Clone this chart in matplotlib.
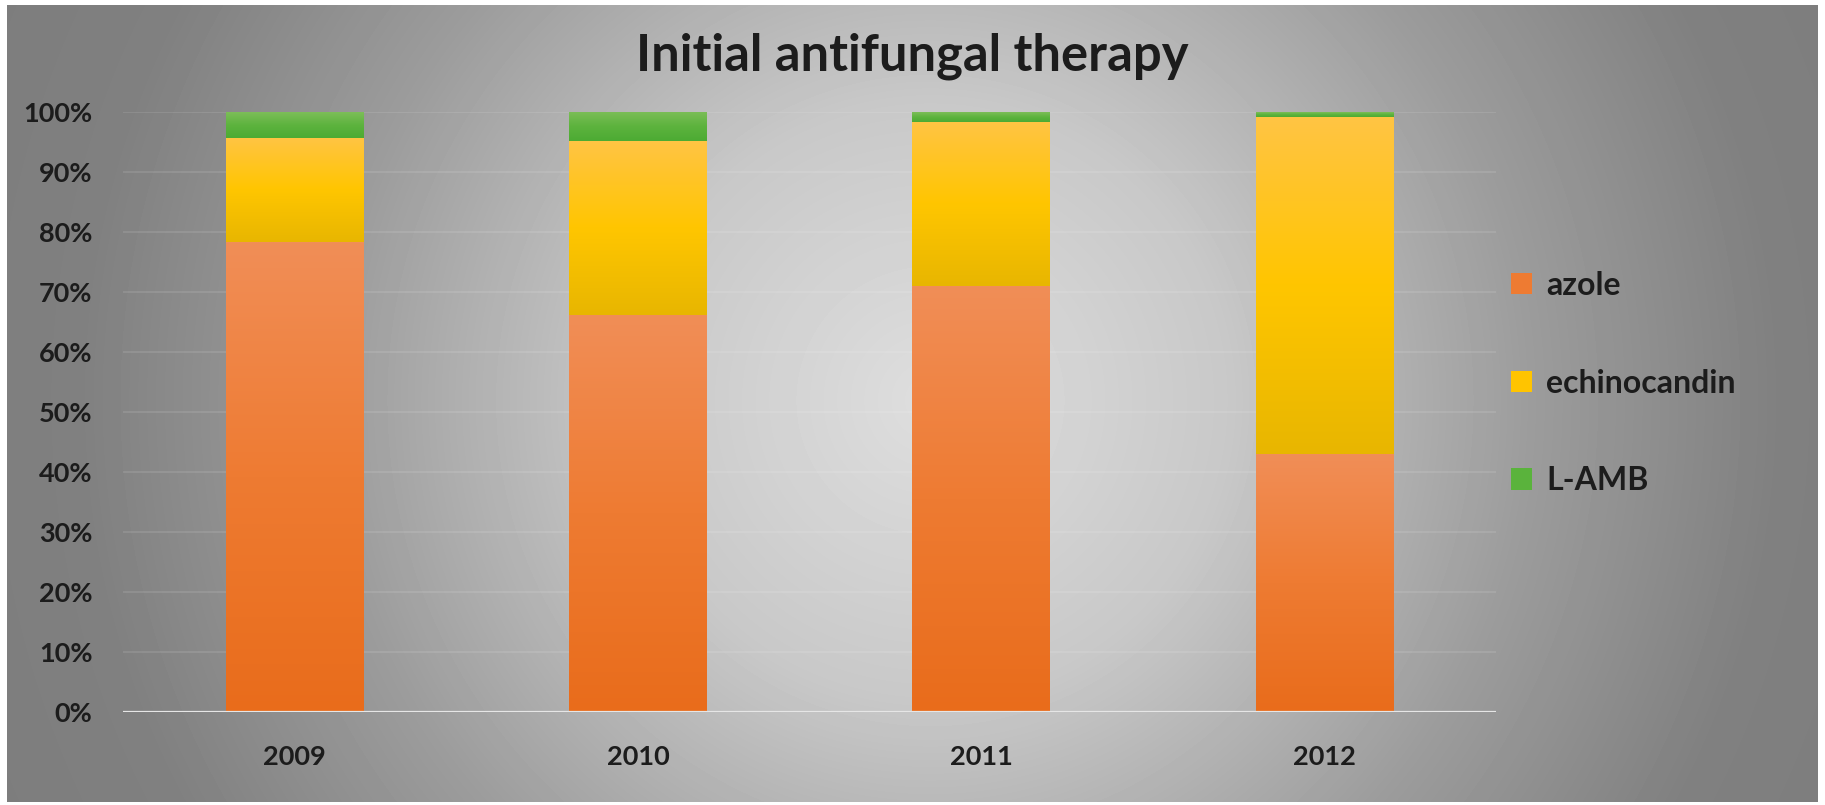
import numpy as np
import matplotlib
matplotlib.use('Agg')
import matplotlib.pyplot as plt
from matplotlib.colors import LinearSegmentedColormap
from matplotlib.patches import Patch

# Share of initial antifungal therapy per year (fractions of 1)
years = ['2009', '2010', '2011', '2012']
azole = [0.783, 0.662, 0.710, 0.430]
echinocandin = [0.174, 0.289, 0.274, 0.562]
lamb = [0.043, 0.049, 0.016, 0.008]

series_names = ['azole', 'echinocandin', 'L-AMB']

# vertical gradient stops (top -> bottom) for each series
grad_stops = {
    'azole': ['#F18E57', '#EE7B32', '#E96C1B'],
    'echinocandin': ['#FFC444', '#FFC600', '#E8B600'],
    'L-AMB': ['#7DBE58', '#5DB33E', '#4CAB33'],
}
legend_colors = {'azole': '#EE7B32', 'echinocandin': '#FFC400', 'L-AMB': '#5AB33C'}

W, H = 1825, 805
fig = plt.figure(figsize=(W / 100, H / 100), dpi=100, facecolor='white')

# ---- radial grey backdrop ----
bg = fig.add_axes([7 / W, 3 / H, (1818 - 7) / W, (802 - 5) / H], zorder=0)
yy, xx = np.mgrid[5:802, 7:1818]
cx, cy = 930, 400
r = np.hypot(xx - cx, yy - cy) / 1000.0
t_pts = [0.0, 0.3, 0.6, 0.85, 1.2]
v_pts = [222, 200, 156, 128, 122]
val = np.interp(r, t_pts, v_pts) / 255.0
bg.imshow(val, cmap='gray', vmin=0, vmax=1, aspect='auto', interpolation='bilinear')
bg.set_axis_off()

# ---- main plot ----
ax = fig.add_axes([123 / W, 93 / H, 1373 / W, 600 / H], zorder=1)
ax.patch.set_alpha(0)

x = np.arange(len(years))
bar_w = 0.40
bottom = np.zeros(len(years))
grad = np.linspace(1, 0, 256).reshape(-1, 1)

for name, vals in zip(series_names, [azole, echinocandin, lamb]):
    cmap = LinearSegmentedColormap.from_list(name, grad_stops[name][::-1])
    bars = ax.bar(x, vals, bar_w, bottom=bottom, color='none',
                  edgecolor='none', zorder=3)
    for b in bars:
        x0, y0 = b.get_x(), b.get_y()
        x1, y1 = x0 + b.get_width(), y0 + b.get_height()
        im = ax.imshow(grad, extent=[x0, x1, y0, y1], cmap=cmap, vmin=0, vmax=1,
                       aspect='auto', zorder=3, interpolation='bilinear')
        im.set_clip_path(b)
    bottom += np.array(vals)

ax.set_xlim(-0.5, len(years) - 0.5)
ax.set_ylim(0, 1.0)
ax.set_aspect('auto')

yt = np.arange(0, 1.01, 0.1)
ax.set_yticks(yt)
ax.set_yticklabels([f'{int(round(v * 100))}%' for v in yt])
ax.set_xticks(x)
ax.set_xticklabels(years)

for lab in ax.get_yticklabels() + ax.get_xticklabels():
    lab.set_fontfamily('Lato')
    lab.set_fontweight('bold')
    lab.set_fontsize(19.5)
    lab.set_color('#1c1c1c')
ax.tick_params(axis='y', length=0, pad=22)
ax.tick_params(axis='x', length=0, pad=24)

for s in ax.spines.values():
    s.set_visible(False)
for v in yt[1:]:
    ax.axhline(v, color='white', alpha=0.12, linewidth=1.2, zorder=1)
ax.axhline(0, color='#e6e6e6', linewidth=1.6, zorder=4)

# ---- title ----
fig.text(0.5, 1 - 71 / H, 'Initial antifungal therapy', ha='center', va='baseline',
         fontfamily='Lato', fontweight='bold', fontsize=36.5, color='#1c1c1c', zorder=5)

# ---- legend ----
handles = [Patch(facecolor=legend_colors[n], edgecolor='none', label=n) for n in series_names]
leg = fig.legend(handles=handles, loc='upper left', bbox_to_anchor=(1511 / W, 1 - 271 / H),
                 frameon=False, borderpad=0, borderaxespad=0,
                 prop=dict(family='Lato', weight='bold', size=23),
                 handlelength=0.65, handleheight=0.65, handletextpad=0.45,
                 labelspacing=2.15)
for t in leg.get_texts():
    t.set_color('#1c1c1c')

fig.savefig('out.png', dpi=100, facecolor='white')
